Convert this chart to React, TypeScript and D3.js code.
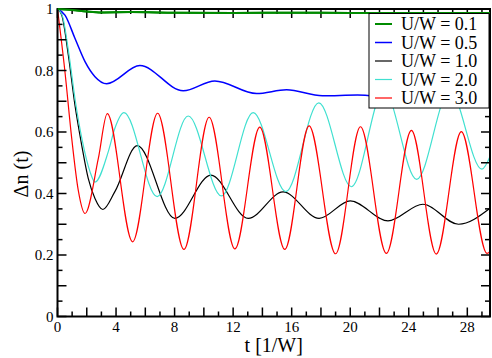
import React from 'react'
import * as d3 from 'd3'

// key points: [t, Δn]
const u01: [number, number][] = [
  [0, 1], [1, 0.997], [2, 0.992], [3, 0.989], [5, 0.99], [8, 0.988],
  [12, 0.987], [16, 0.988], [20, 0.987], [24, 0.987], [29.55, 0.987],
]
const u05: [number, number][] = [
  [0, 1], [0.51, 0.98], [1.19, 0.905], [1.88, 0.829], [2.56, 0.78], [3.36, 0.757],
  [5.63, 0.816], [8.59, 0.734], [10.75, 0.766], [13.6, 0.725], [15.65, 0.737],
  [18.1, 0.718], [20.5, 0.72], [23, 0.712], [25.5, 0.716], [28, 0.706], [29.55, 0.704],
]
const u10: [number, number][] = [
  [0, 1], [0.29, 0.98], [0.74, 0.85], [1.19, 0.688], [1.65, 0.558], [2.1, 0.449],
  [2.56, 0.384], [3.1, 0.348], [3.92, 0.406], [5.45, 0.556], [8.02, 0.319],
  [10.48, 0.46], [13.03, 0.319], [15.41, 0.405], [17.87, 0.319], [20.0, 0.376],
  [22.58, 0.311], [24.97, 0.365], [27.4, 0.3], [29.55, 0.352],
]
const u20: [number, number][] = [
  [0, 1], [0.32, 0.98], [0.76, 0.86], [1.22, 0.7], [1.68, 0.575], [2.22, 0.471],
  [2.56, 0.437], [3.47, 0.536], [3.92, 0.612], [4.54, 0.663], [6.81, 0.39],
  [8.93, 0.652], [11.2, 0.392], [13.37, 0.663], [15.6, 0.406], [17.85, 0.695],
  [20.08, 0.422], [22.3, 0.735], [24.54, 0.446], [26.8, 0.735], [29.0, 0.479], [29.55, 0.52],
]
const u30: [number, number][] = [
  [0, 1], [0.5, 0.8], [0.97, 0.58], [1.42, 0.41], [1.88, 0.335], [2.79, 0.514],
  [3.4, 0.66], [5.13, 0.243], [6.84, 0.661], [8.64, 0.218], [10.36, 0.648],
  [12.12, 0.22], [13.82, 0.616], [15.53, 0.218], [17.19, 0.62], [19.0, 0.204],
  [20.7, 0.617], [22.47, 0.205], [24.18, 0.605], [25.88, 0.203], [27.59, 0.601],
  [29.35, 0.205], [29.55, 0.212],
]

const labels = ['U/W = 0.1', 'U/W = 0.5', 'U/W = 1.0', 'U/W = 2.0', 'U/W = 3.0']
const colors = ['#008b00', '#0000ff', '#000000', '#40e0d0', '#ff0000']
const widths = [2, 1.5, 1.2, 1.2, 1.2]
const series = [u01, u05, u10, u20, u30]

const xMajor = d3.range(0, 30, 2)
const xMinor = d3.range(1, 30, 2)
const xLabels = [0, 4, 8, 12, 16, 20, 24, 28]
const yMajor = d3.range(0, 1.01, 0.1)
const yMinor = d3.range(0.05, 1, 0.1)
const yLabels = [0, 0.2, 0.4, 0.6, 0.8, 1]

const left = 57.5, right = 490, top = 9, bottom = 316.5
const font = "'Liberation Serif', 'Times New Roman', 'DejaVu Serif', serif"

export default function App() {
  const x = d3.scaleLinear().domain([0, 29.55]).range([left, right])
  const y = d3.scaleLinear().domain([0, 1]).range([bottom, top])
  const line = d3.line<[number, number]>()
    .x(d => x(d[0]))
    .y(d => y(d[1]))
    .curve(d3.curveMonotoneX)

  const majorLen = 9, minorLen = 5
  const ts = { fontFamily: font }

  return (
    <svg width={492} height={358} style={{ position: 'absolute', left: 0, top: 0, background: '#fff', fontFamily: font }}>
      <defs>
        <clipPath id="plot">
          <rect x={left} y={top - 2} width={right - left + 2} height={bottom - top + 2} />
        </clipPath>
      </defs>
      <rect width={492} height={358} fill="#fff" />

      {/* curves */}
      <g clipPath="url(#plot)" fill="none">
        {series.map((s, i) => (
          <path key={i} d={line(s) || ''} stroke={colors[i]} strokeWidth={widths[i]} />
        ))}
      </g>

      {/* ticks, all four sides */}
      <g stroke="#000" strokeWidth={1.5}>
        {xMajor.map(t => (
          <g key={'xM' + t}>
            <line x1={x(t)} x2={x(t)} y1={bottom} y2={bottom - majorLen} />
            <line x1={x(t)} x2={x(t)} y1={top} y2={top + majorLen} />
          </g>
        ))}
        {xMinor.map(t => (
          <g key={'xm' + t}>
            <line x1={x(t)} x2={x(t)} y1={bottom} y2={bottom - minorLen} />
            <line x1={x(t)} x2={x(t)} y1={top} y2={top + minorLen} />
          </g>
        ))}
        {yMajor.map(v => (
          <g key={'yM' + v}>
            <line x1={left} x2={left + majorLen} y1={y(v)} y2={y(v)} />
            <line x1={right} x2={right - majorLen} y1={y(v)} y2={y(v)} />
          </g>
        ))}
        {yMinor.map(v => (
          <g key={'ym' + v}>
            <line x1={left} x2={left + minorLen} y1={y(v)} y2={y(v)} />
            <line x1={right} x2={right - minorLen} y1={y(v)} y2={y(v)} />
          </g>
        ))}
      </g>
      <rect x={left} y={top} width={right - left} height={bottom - top} fill="none" stroke="#000" strokeWidth={2} />
      {/* green runs along the top edge, drawn again on top of the frame */}
      <path d={line(u01) || ''} fill="none" stroke={colors[0]} strokeWidth={2} clipPath="url(#plot)" />

      {/* tick labels */}
      <g fontSize={15} fill="#000">
        {xLabels.map(t => (
          <text key={'xl' + t} x={x(t)} y={bottom + 15} textAnchor="middle" style={ts}>{t}</text>
        ))}
        {yLabels.map(v => (
          <text key={'yl' + v} x={left - 4} y={y(v) + 5} textAnchor="end" style={ts}>{d3.format('~g')(v)}</text>
        ))}
      </g>

      {/* axis titles */}
      <text x={(left + right) / 2} y={352} fontSize={20} textAnchor="middle" style={ts}>t [1/W]</text>
      <text transform="translate(28, 174) rotate(-90)" fontSize={20} textAnchor="middle" style={ts}>Δn (t)</text>

      {/* legend */}
      <g>
        <rect x={369} y={13.5} width={120} height={94.5} fill="#fff" stroke="#000" strokeWidth={1} />
        {labels.map((l, i) => {
          const cy = 24 + i * 18.5
          return (
            <g key={l}>
              <line x1={375} x2={392} y1={cy} y2={cy} stroke={colors[i]} strokeWidth={widths[i]} />
              <text x={401} y={cy + 6} fontSize={18} fill="#000" style={ts}>{l}</text>
            </g>
          )
        })}
      </g>
    </svg>
  )
}
